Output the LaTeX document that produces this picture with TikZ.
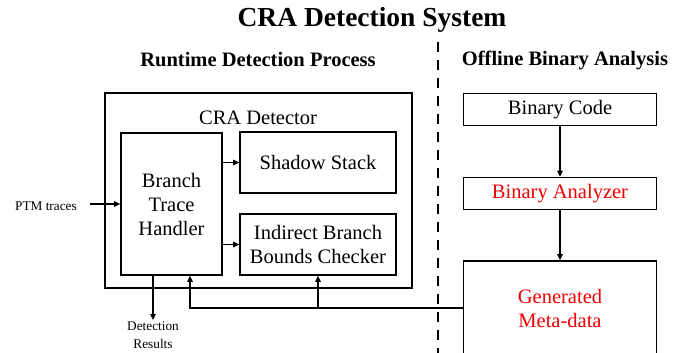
\documentclass[tikz,border=0pt]{standalone}
\usepackage{fontspec}
\setmainfont{Liberation Serif}
\usetikzlibrary{arrows.meta}
\definecolor{metared}{RGB}{240,0,0}
\tikzset{
  box/.style={draw, line width=1.7pt, inner sep=0pt, align=center, font=\fontsize{20.5}{24}\selectfont},
  arr/.style={line width=1.7pt, -{Triangle[length=6pt,width=5.5pt]}},
  small/.style={font=\fontsize{13.3}{18}\selectfont, align=center, inner sep=1pt},
  head/.style={font=\bfseries\fontsize{20.5}{24}\selectfont, inner sep=0pt}
}
\begin{document}
\begin{tikzpicture}[x=1pt,y=-1pt]
\useasboundingbox (0,0) rectangle (683,353);

% headings
\node[font=\bfseries\fontsize{27.5}{30}\selectfont, inner sep=0pt] (title) at (372,20) {CRA Detection System};
\node[head] (rt) at (258,60) {Runtime Detection Process};
\node[head] (off) at (565,60) {Offline Binary Analysis};

% divider between runtime and offline parts
\coordinate (divtop) at (438,42);
\coordinate (divbot) at (438,356);
\draw[line width=2.8pt, dash pattern=on 10pt off 8pt] (divtop) -- (divbot);

% runtime detector
\node[box, minimum width=307pt, minimum height=195pt] (det) at (258.5,190.5) {};
\node[font=\fontsize{20.5}{24}\selectfont, inner sep=0pt] (detlbl) at (258,118) {CRA Detector};
\node[box, minimum width=101pt, minimum height=142pt] (bth) at (171.5,204) {Branch\\Trace\\Handler};
\node[box, minimum width=156pt, minimum height=61pt] (ss) at (318,162.5) {Shadow Stack};
\node[box, minimum width=156pt, minimum height=61pt] (ibbc) at (318,244.5) {Indirect Branch\\Bounds Checker};

% offline analysis
\node[box, minimum width=193pt, minimum height=32pt] (bin) at (560,109.5) {Binary Code};
\node[box, minimum width=193pt, minimum height=32pt, text=metared] (ana) at (560,193.5) {Binary Analyzer};
\node[box, minimum width=193pt, minimum height=94pt, text=metared] (meta) at (560,308) {Generated\\Meta-data};

% external labels
\node[small, anchor=east] (ptm) at (78,206) {PTM traces};
\node[small, anchor=north] (res) at (153,320) {Detection\\Results};

% connectors
\draw[arr] ([xshift=12pt]ptm.east |- bth.west) -- (bth.west);
\draw[arr] (bth.east |- ss.west) -- (ss.west);
\draw[arr] (bth.east |- ibbc.west) -- (ibbc.west);
\draw[arr] ([xshift=-18.5pt]bth.south) -- (res.north);
\draw[arr] (bin) -- (ana);
\draw[arr] (ana) -- (meta);
\draw[arr] (meta.west) -| ([xshift=18.5pt]bth.south);
\draw[arr] (ibbc.south |- meta.west) -- (ibbc.south);
\end{tikzpicture}
\end{document}
